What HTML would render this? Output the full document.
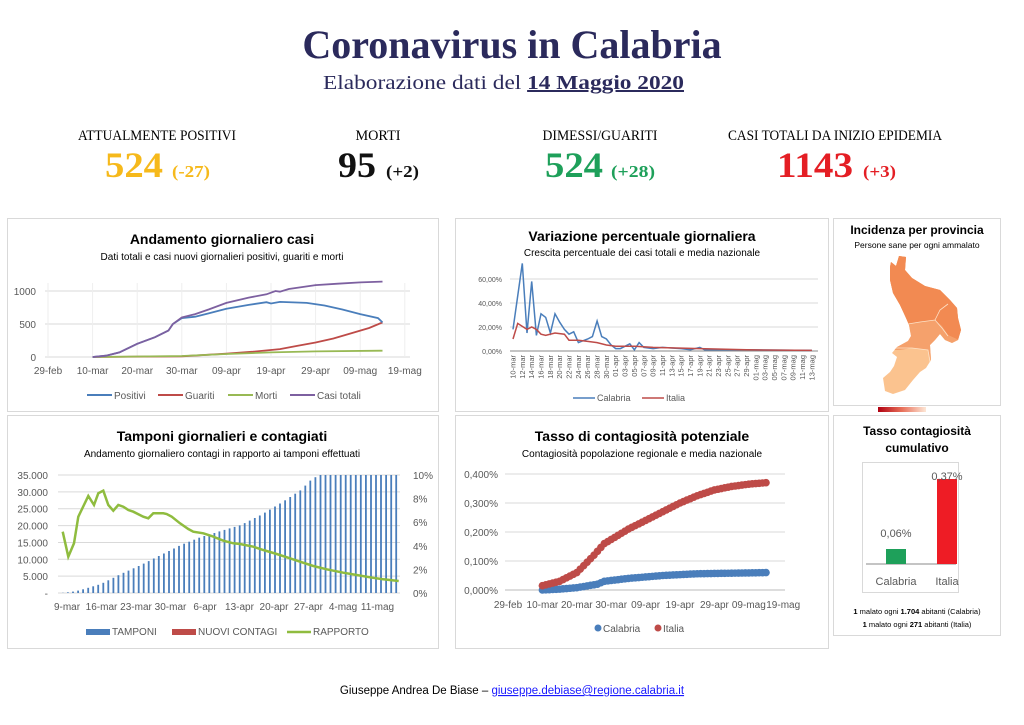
<!DOCTYPE html>
<html><head><meta charset="utf-8"><style>
html,body{margin:0;padding:0;background:#fff;}
svg{display:block;}
text{font-family:"Liberation Sans",sans-serif;}
text.s{font-family:"Liberation Serif",serif;}
</style></head><body>
<svg id="c" width="1024" height="725" viewBox="0 0 1024 725" xmlns="http://www.w3.org/2000/svg">
<rect width="1024" height="725" fill="#fff"/>
<text class="s" x="512" y="58" text-anchor="middle" font-size="40" font-weight="bold" fill="#2b2a5c">Coronavirus in Calabria</text>
<text class="s" x="323" y="89" font-size="20" fill="#2b2a5c" textLength="361" lengthAdjust="spacingAndGlyphs">Elaborazione dati del <tspan font-weight="bold" text-decoration="underline">14 Maggio 2020</tspan></text>

<g text-anchor="middle">
<text class="s" x="157" y="140" font-size="15" textLength="158" lengthAdjust="spacingAndGlyphs">ATTUALMENTE POSITIVI</text>
<text class="s" x="378" y="140" font-size="15" textLength="45" lengthAdjust="spacingAndGlyphs">MORTI</text>
<text class="s" x="600" y="140" font-size="15" textLength="115" lengthAdjust="spacingAndGlyphs">DIMESSI/GUARITI</text>
<text class="s" x="835" y="140" font-size="15" textLength="214" lengthAdjust="spacingAndGlyphs">CASI TOTALI DA INIZIO EPIDEMIA</text>
</g>
<g font-weight="bold">
<text class="s" x="105" y="177" font-size="36" fill="#f6b91b" textLength="58" lengthAdjust="spacingAndGlyphs">524</text>
<text class="s" x="172" y="177" font-size="17" fill="#f6b91b" textLength="38" lengthAdjust="spacingAndGlyphs">(-27)</text>
<text class="s" x="338" y="177" font-size="36" fill="#111" textLength="38" lengthAdjust="spacingAndGlyphs">95</text>
<text class="s" x="386" y="177" font-size="17" fill="#111" textLength="33" lengthAdjust="spacingAndGlyphs">(+2)</text>
<text class="s" x="545" y="177" font-size="36" fill="#1ea05a" textLength="58" lengthAdjust="spacingAndGlyphs">524</text>
<text class="s" x="611" y="177" font-size="17" fill="#1ea05a" textLength="44" lengthAdjust="spacingAndGlyphs">(+28)</text>
<text class="s" x="777" y="177" font-size="36" fill="#e41e24" textLength="76" lengthAdjust="spacingAndGlyphs">1143</text>
<text class="s" x="863" y="177" font-size="17" fill="#e41e24" textLength="33" lengthAdjust="spacingAndGlyphs">(+3)</text>
</g>

<!-- panels -->
<g fill="none" stroke="#d9d9d9">
<rect x="7.5" y="218.5" width="431" height="193"/>
<rect x="455.5" y="218.5" width="373" height="193"/>
<rect x="833.5" y="218.5" width="167" height="187"/>
<rect x="7.5" y="415.5" width="431" height="233"/>
<rect x="455.5" y="415.5" width="373" height="233"/>
<rect x="833.5" y="415.5" width="167" height="220"/>
</g>

<!-- Panel 1 -->
<text x="222" y="244" text-anchor="middle" font-size="14" font-weight="bold">Andamento giornaliero casi</text>
<text x="222" y="260" text-anchor="middle" font-size="10">Dati totali e casi nuovi giornalieri positivi, guariti e morti</text>
<g stroke="#d9d9d9"><line x1="45" y1="291" x2="410" y2="291"/><line x1="45" y1="324" x2="410" y2="324"/><line x1="45" y1="357" x2="410" y2="357"/></g>
<g id="vgrid1"></g>
<g font-size="10" fill="#595959" text-anchor="end"><text x="36" y="295">1000</text><text x="36" y="328">500</text><text x="36" y="361">0</text></g>
<g id="xl1" font-size="10" fill="#595959" text-anchor="middle"></g>
<g id="s1" fill="none" stroke-width="1.8"></g>
<g font-size="10" fill="#595959">
<line x1="87" y1="395" x2="112" y2="395" stroke="#4a7ebb" stroke-width="2"/><text x="114" y="399">Positivi</text>
<line x1="158" y1="395" x2="183" y2="395" stroke="#be4b48" stroke-width="2"/><text x="185" y="399">Guariti</text>
<line x1="228" y1="395" x2="253" y2="395" stroke="#98b954" stroke-width="2"/><text x="255" y="399">Morti</text>
<line x1="290" y1="395" x2="315" y2="395" stroke="#7d60a0" stroke-width="2"/><text x="317" y="399">Casi totali</text>
</g>

<!-- Panel 2 -->
<text x="642" y="241" text-anchor="middle" font-size="14" font-weight="bold">Variazione percentuale giornaliera</text>
<text x="642" y="256" text-anchor="middle" font-size="10">Crescita percentuale dei casi totali e media nazionale</text>
<g stroke="#d9d9d9"><line x1="510" y1="279" x2="818" y2="279"/><line x1="510" y1="303" x2="818" y2="303"/><line x1="510" y1="327" x2="818" y2="327"/></g>
<line x1="510" y1="351" x2="818" y2="351" stroke="#888"/>
<g font-size="7" fill="#595959" text-anchor="end"><text x="502" y="282">60,00%</text><text x="502" y="306">40,00%</text><text x="502" y="330">20,00%</text><text x="502" y="354">0,00%</text></g>
<g id="xl2" font-size="7.5" fill="#595959" text-anchor="end"></g>
<g id="s2" fill="none" stroke-width="1.5"></g>
<g font-size="9" fill="#595959">
<line x1="573" y1="398" x2="595" y2="398" stroke="#4a7ebb" stroke-width="1.5"/><text x="597" y="401">Calabria</text>
<line x1="642" y1="398" x2="664" y2="398" stroke="#be4b48" stroke-width="1.5"/><text x="666" y="401">Italia</text>
</g>

<!-- Panel 3 map -->
<text x="917" y="234" text-anchor="middle" font-size="12" font-weight="bold">Incidenza per provincia</text>
<text x="917" y="248" text-anchor="middle" font-size="8.5">Persone sane per ogni ammalato</text>
<defs>
<clipPath id="mp"><polygon points="890,267 891,262 896,266 899,256 906,257 905,270 912,278 925,286 940,290 950,300 957,308 958,318 961,330 958,340 952,343 945,340 940,334 935,340 930,345 931,360 926,368 920,372 913,380 905,390 893,394 885,391 883,378 890,372 894,366 897,357 892,353 897,347 908,341 911,336 909,325 906,318 900,305 893,293 890,280"/></clipPath>
<linearGradient id="gb" x1="0" x2="1"><stop offset="0" stop-color="#b00010"/><stop offset="0.5" stop-color="#e8705a"/><stop offset="1" stop-color="#fde7d6"/></linearGradient>
</defs>
<g clip-path="url(#mp)">
<rect x="870" y="250" width="100" height="150" fill="#fbc38f"/>
<polygon points="870,250 970,250 970,360 931,362 928,350 912,348 900,350 870,350" fill="#f5a16c"/>
<polygon points="870,250 970,250 970,345 948,335 942,326 935,320 920,322 908,324 870,324" fill="#f28a52"/>
</g>
<g fill="none" stroke="#fde3c8" stroke-width="0.8"><polyline points="908,324 920,322 935,320 942,328 948,336"/><polyline points="935,320 940,310 948,304"/><polyline points="896,348 912,348 928,350 930,362"/></g>
<rect x="878" y="407" width="48" height="5" fill="url(#gb)"/>

<!-- Panel 4 -->
<text x="222" y="441" text-anchor="middle" font-size="14" font-weight="bold">Tamponi giornalieri e contagiati</text>
<text x="222" y="457" text-anchor="middle" font-size="10">Andamento giornaliero contagi in rapporto ai tamponi effettuati</text>
<g id="g4" stroke="#d9d9d9"></g>
<g id="b4" fill="#4a7ebb"></g>
<g id="l4" fill="none" stroke="#8fbc3f" stroke-width="2.5"></g>
<g id="a4" font-size="10" fill="#595959"></g>
<g font-size="10" fill="#595959">
<rect x="86" y="629" width="24" height="6" fill="#4a7ebb"/><text x="112" y="635">TAMPONI</text>
<rect x="172" y="629" width="24" height="6" fill="#be4b48"/><text x="198" y="635">NUOVI CONTAGI</text>
<line x1="287" y1="632" x2="311" y2="632" stroke="#8fbc3f" stroke-width="2.5"/><text x="313" y="635">RAPPORTO</text>
</g>

<!-- Panel 5 -->
<text x="642" y="441" text-anchor="middle" font-size="14" font-weight="bold">Tasso di contagiosità potenziale</text>
<text x="642" y="457" text-anchor="middle" font-size="10">Contagiosità popolazione regionale e media nazionale</text>
<g id="g5" stroke="#d9d9d9"></g>
<g id="a5" font-size="10" fill="#595959"></g>
<g id="s5"></g>
<g font-size="10" fill="#595959">
<circle cx="598" cy="628" r="3.5" fill="#4a7ebb"/><text x="603" y="632">Calabria</text>
<circle cx="658" cy="628" r="3.5" fill="#be4b48"/><text x="663" y="632">Italia</text>
</g>

<!-- Panel 6 -->
<text x="917" y="435" text-anchor="middle" font-size="12" font-weight="bold">Tasso contagiosità</text>
<text x="917" y="452" text-anchor="middle" font-size="12" font-weight="bold">cumulativo</text>
<rect x="862.5" y="462.5" width="96" height="130" fill="none" stroke="#d9d9d9"/>
<line x1="866" y1="564" x2="956" y2="564" stroke="#888"/>
<rect x="886" y="549" width="20" height="15" fill="#1ea05a"/>
<rect x="937" y="479" width="20" height="85" fill="#ee1c25"/>
<text x="896" y="537" text-anchor="middle" font-size="11" fill="#595959">0,06%</text>
<text x="947" y="480" text-anchor="middle" font-size="11" fill="#595959">0,37%</text>
<text x="896" y="585" text-anchor="middle" font-size="11" fill="#595959">Calabria</text>
<text x="947" y="585" text-anchor="middle" font-size="11" fill="#595959">Italia</text>
<text x="917" y="614" text-anchor="middle" font-size="7.5"><tspan font-weight="bold">1</tspan> malato ogni <tspan font-weight="bold">1.704</tspan> abitanti (Calabria)</text>
<text x="917" y="627" text-anchor="middle" font-size="7.5"><tspan font-weight="bold">1</tspan> malato ogni <tspan font-weight="bold">271</tspan> abitanti (Italia)</text>

<text x="512" y="694" text-anchor="middle" font-size="11.5">Giuseppe Andrea De Biase – <tspan fill="#1a1aff" text-decoration="underline">giuseppe.debiase@regione.calabria.it</tspan></text>
</svg>
<script>
(function(){
var NS="http://www.w3.org/2000/svg";
function el(p,t,a,txt){var e=document.createElementNS(NS,t);for(var k in a)e.setAttribute(k,a[k]);if(txt!=null)e.textContent=txt;document.getElementById(p).appendChild(e);return e;}
function interp(pts,x){if(x<=pts[0][0])return pts[0][1];for(var i=0;i<pts.length-1;i++){if(x>=pts[i][0]&&x<=pts[i+1][0]){var t=(x-pts[i][0])/(pts[i+1][0]-pts[i][0]);return pts[i][1]+t*(pts[i+1][1]-pts[i][1]);}}return pts[pts.length-1][1];}
function path(pts,fx,fy){return pts.map(function(p,i){return (i?"L":"M")+fx(p[0]).toFixed(1)+","+fy(p[1]).toFixed(1);}).join("");}
// Panel 1
var X1=function(d){return 48+4.46*d},Y1=function(v){return 357-0.066*v};
["29-feb","10-mar","20-mar","30-mar","09-apr","19-apr","29-apr","09-mag","19-mag"].forEach(function(s,i){el("xl1","text",{x:X1(i*10),y:374},s);el("vgrid1","line",{x1:X1(i*10),y1:283,x2:X1(i*10),y2:357,stroke:"#eee"});});
var tot=[[10,0],[13,20],[16,70],[20,200],[24,300],[27,400],[28,500],[30,600],[33,650],[36,720],[40,820],[45,900],[49,950],[51,1000],[52,990],[54,1030],[60,1090],[65,1110],[70,1130],[75,1143]];
var pos=[[10,0],[13,20],[16,70],[20,200],[24,300],[27,400],[28,500],[30,590],[33,610],[36,660],[40,730],[45,790],[49,830],[50,810],[52,835],[58,820],[62,780],[66,720],[70,650],[74,590],[75,524]];
var gua=[[10,0],[30,10],[40,50],[46,80],[52,120],[56,170],[60,220],[64,280],[68,360],[72,440],[75,524]];
var mor=[[10,0],[30,15],[40,45],[50,70],[60,85],[75,95]];
[[gua,"#be4b48"],[mor,"#98b954"],[pos,"#4a7ebb"],[tot,"#7d60a0"]].forEach(function(s){el("s1","path",{d:path(s[0],X1,Y1),stroke:s[1]});});
// Panel 2
var X2=function(i){return 513+4.67*i},Y2=function(v){return 351-1.2*v};
for(var i=0;i<33;i++){var d=10+2*i,lbl;if(d<=31)lbl=("0"+d).slice(-2)+"-mar";else if(d<=61)lbl=("0"+(d-31)).slice(-2)+"-apr";else lbl=("0"+(d-61)).slice(-2)+"-mag";var x=X2(2*i)+2.5;el("xl2","text",{transform:"translate("+x+",355) rotate(-90)"},lbl);}
var cal=[[0,18],[2,73],[3,15],[4,58],[5,13],[6,31],[7,28],[8,15],[9,31],[10,24],[11,18],[12,14],[13,16],[14,7],[16,10],[17,12],[18,25],[19,12],[20,10],[21,5],[22,2],[23,2],[25,6],[26,1],[27,7],[28,3],[30,2],[32,3],[36,2],[38,1],[40,3],[41,1],[45,1],[50,1],[64,0.5]];
var ita=[[0,10],[1,23],[3,18],[4,20],[5,18],[6,14],[7,13],[9,15],[11,14],[12,9],[14,9],[16,8],[18,7],[20,5],[22,4],[26,4],[30,3],[40,2],[50,1],[64,0.5]];
el("s2","path",{d:path(cal,X2,Y2),stroke:"#4a7ebb"});el("s2","path",{d:path(ita,X2,Y2),stroke:"#be4b48"});
// Panel 4
var ly=["35.000","30.000","25.000","20.000","15.000","10.000","5.000","-"];
for(var i=0;i<8;i++){var y=475+i*16.86;el("g4","line",{x1:58,y1:y,x2:400,y2:y});el("a4","text",{x:48,y:y+4,"text-anchor":"end"},ly[i]);}
["10%","8%","6%","4%","2%","0%"].forEach(function(s,i){el("a4","text",{x:413,y:479+i*23.6},s);});
["9-mar","16-mar","23-mar","30-mar","6-apr","13-apr","20-apr","27-apr","4-mag","11-mag"].forEach(function(s,i){el("a4","text",{x:67+i*34.5,y:610,"text-anchor":"middle"},s);});
var bt=[[60,593],[70,592],[80,590],[90,587],[100,584],[120,574],[140,565],[160,555],[180,545],[200,537],[220,531],[240,525],[260,515],[280,503],[300,490],[310,480],[318,475],[400,475]];
for(var d=0;d<=66;d++){var bx=62+d*5.05;var tp=Math.max(475,interp(bt,bx));el("b4","rect",{x:bx.toFixed(1),y:tp.toFixed(1),width:1.8,height:(593-tp).toFixed(1)});}
var gp=[[188,365],[205,440],[222,400],[235,320],[265,258],[282,285],[295,250],[310,242],[325,285],[340,302],[355,285],[370,290],[385,300],[400,305],[430,320],[445,325],[460,310],[490,310],[500,312],[515,320],[540,340],[565,357],[580,365],[610,370],[635,378],[670,392],[700,400],[720,402],[760,410],[790,420],[830,432],[870,445],[900,455],[940,468],[980,478],[1030,488],[1070,495],[1110,502],[1150,508],[1196,513]];
el("l4","path",{d:path(gp,function(x){return x/3},function(y){return y/3+410})});
// Panel 5
var X5=function(d){return 508+3.44*d},Y5=function(p){return 590-290*p};
["0,400%","0,300%","0,200%","0,100%","0,000%"].forEach(function(s,i){var y=474+i*29;el("g5","line",{x1:505,y1:y,x2:785,y2:y,stroke:i==4?"#bbb":"#d9d9d9"});el("a5","text",{x:498,y:y+4,"text-anchor":"end"},s);});
["29-feb","10-mar","20-mar","30-mar","09-apr","19-apr","29-apr","09-mag","19-mag"].forEach(function(s,i){el("a5","text",{x:X5(i*10),y:608,"text-anchor":"middle"},s);});
var cc=[[10,0],[15,0.003],[20,0.008],[26,0.02],[28,0.03],[35,0.04],[45,0.05],[55,0.056],[75,0.06]];
var ic=[[10,0.015],[15,0.03],[20,0.06],[25,0.12],[28,0.16],[35,0.21],[45,0.27],[50,0.3],[55,0.325],[60,0.345],[65,0.357],[70,0.365],[75,0.37]];
for(var d=10;d<=75;d++){el("s5","circle",{cx:X5(d),cy:Y5(interp(cc,d)),r:3.8,fill:"#4a7ebb"});}
for(var d=10;d<=75;d++){el("s5","circle",{cx:X5(d),cy:Y5(interp(ic,d)),r:3.8,fill:"#be4b48"});}
})();
</script>
</body></html>
